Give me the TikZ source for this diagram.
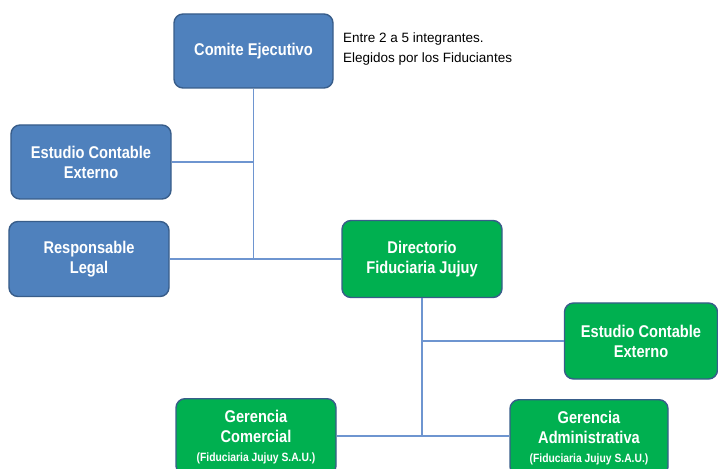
\documentclass[tikz,border=0pt]{standalone}
\usepackage{fontspec}
\setmainfont{Liberation Sans}
\newfontfamily\boxfont{Liberation Sans}[FakeStretch=0.86]
\definecolor{bluefill}{HTML}{4F81BD}
\definecolor{blueedge}{HTML}{385D8A}
\definecolor{greenfill}{HTML}{00B050}
\definecolor{linecol}{HTML}{6E95D0}
\tikzset{
  orgbox/.style={draw=blueedge, line width=1.4bp, rounded corners=9bp, text=white,
    align=center, font=\boxfont\bfseries\fontsize{17bp}{20bp}\selectfont, inner sep=0pt},
  bluebox/.style={orgbox, fill=bluefill},
  greenbox/.style={orgbox, fill=greenfill},
  conn/.style={draw=linecol, line width=1.3bp}
}
\newcommand{\sau}{{\fontsize{12bp}{13bp}\selectfont(Fiduciaria Jujuy S.A.U.)}}
\begin{document}
\begin{tikzpicture}[x=1bp,y=-1bp]
\useasboundingbox (0,0) rectangle (718,469);
% nodes
\node[bluebox, minimum width=159bp, minimum height=74bp] (ce) at (253.5,51) {Comite Ejecutivo};
\node[anchor=west, align=left, font=\fontsize{13.5bp}{20bp}\selectfont, inner sep=0pt] (note) at (343,49) {Entre 2 a 5 integrantes.\\Elegidos por los Fiduciantes};
\node[bluebox, minimum width=160bp, minimum height=74bp] (ec1) at (91,162) {Estudio Contable\\Externo};
\node[bluebox, minimum width=160bp, minimum height=75bp] (rl) at (89,259) {Responsable\\Legal};
\node[greenbox, minimum width=160bp, minimum height=77bp] (dir) at (422,259) {Directorio\\Fiduciaria Jujuy};
\node[greenbox, minimum width=153bp, minimum height=76bp] (ec2) at (641,341) {Estudio Contable\\Externo};
\node[greenbox, minimum width=160bp, minimum height=76bp, anchor=north] (gc) at (256,398) {Gerencia\\Comercial\\[-1bp]\sau};
\node[greenbox, minimum width=158bp, minimum height=76bp, anchor=north] (ga) at (589,399) {Gerencia\\Administrativa\\[-1bp]\sau};
% connectors
\coordinate (j1) at (ce.south |- dir.west);
\begin{scope}[on background layer/.try]
\draw[conn] (ce.south) -- (j1) -- (dir.west);
\draw[conn] (ec1.east) -- (ec1.east -| ce.south);
\draw[conn] (rl.east) -- (j1);
\draw[conn] (dir.south) -- (dir.south |- 0,436);
\draw[conn] (ec2.west -| dir.south) -- (ec2.west);
\draw[conn] (gc.east |- 0,436) -- (ga.west |- 0,436);
\end{scope}
\end{tikzpicture}
\end{document}
